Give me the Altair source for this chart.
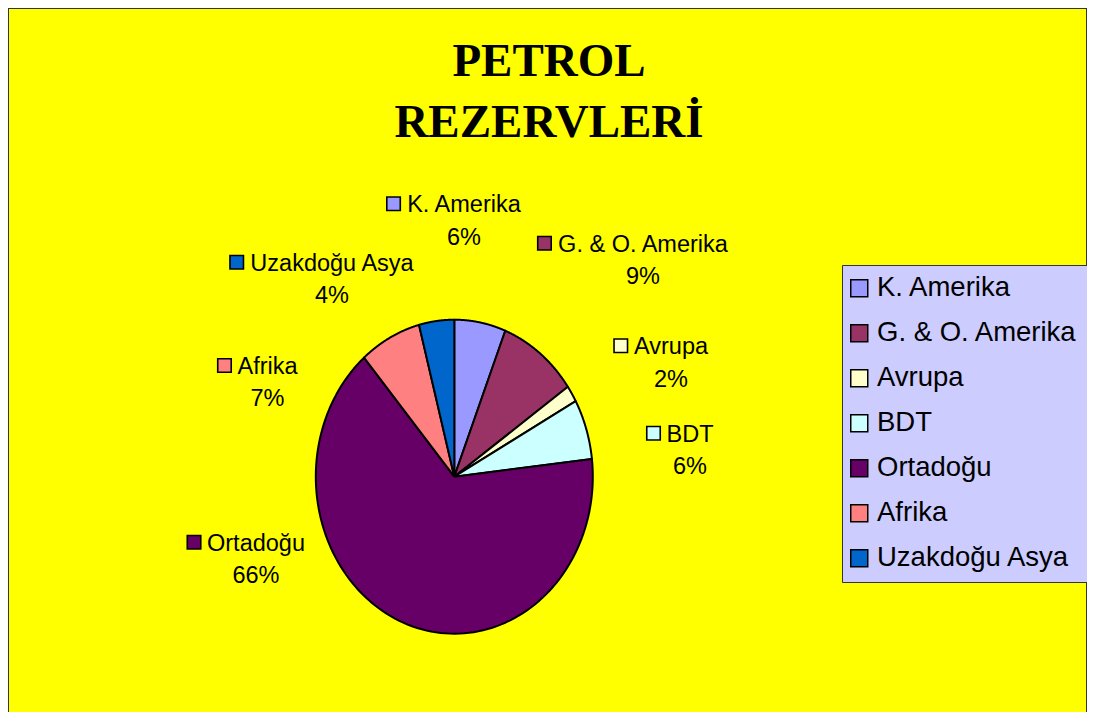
import altair as alt
import pandas as pd

# ---- data ----
categories = ["K. Amerika", "G. & O. Amerika", "Avrupa", "BDT", "Ortadoğu", "Afrika", "Uzakdoğu Asya"]
shares = [6.0, 9.3, 1.7, 6.2, 65.5, 7.2, 4.1]
colors = ["#9999FF", "#993366", "#FFFFCC", "#CCFFFF", "#660066", "#FF8080", "#0066CC"]
title_lines = ["PETROL", "REZERVLERİ"]

# ---- label layout (chart pixel coords: text centre x, name baseline y) ----
label_cx = [456, 635, 663, 682, 248, 259.5, 324]
label_base = [204.3, 243.7, 346.3, 433.7, 542.7, 366, 262.7]

LABEL_FS = 23.5
W = {"K": 667, ".": 278, " ": 278, "A": 667, "m": 833, "e": 556, "r": 333, "i": 222, "k": 500,
     "a": 556, "G": 778, "&": 667, "O": 778, "v": 500, "u": 556, "p": 556, "B": 667, "D": 722,
     "T": 611, "t": 278, "d": 556, "o": 556, "ğ": 556, "f": 278, "U": 722, "z": 500, "s": 500, "y": 500}


def text_w(s, fs):
    return sum(W.get(c, 556) for c in s) / 1000 * fs


pie_df = pd.DataFrame({"cat": categories, "val": shares, "k": list(range(len(categories)))})

lab_rows = []
for c, v, cx, b in zip(categories, shares, label_cx, label_base):
    tw = text_w(c, LABEL_FS)
    lab_rows.append({
        "cat": c,
        "pct": f"{int(v + 0.5)}%",
        "nx": cx, "ny": b, "py": b + 32.3,
        "sx": cx - tw / 2 - 13, "sy": b - 8.5,
    })
lab_df = pd.DataFrame(lab_rows)

N = 120
PCX, PCY, RX, RY = 446.3, 468.7, 138.5, 157.0

fill_scale = alt.Scale(domain=categories, range=colors)

pie = alt.Chart(pie_df).transform_window(
    cum="sum(val)", sort=[alt.SortField("k")], frame=[None, 0]
).transform_joinaggregate(
    total="sum(val)"
).transform_calculate(
    a0="2*PI*(datum.cum - datum.val)/datum.total",
    a1="2*PI*datum.cum/datum.total",
    pts=f"sequence(0, {N + 3})",
).transform_flatten(
    ["pts"], as_=["i"]
).transform_calculate(
    t=f"clamp(datum.i - 1, 0, {N})/{N}",
).transform_calculate(
    ang="datum.a0 + (datum.a1 - datum.a0)*datum.t",
    edge=f"(datum.i == 0 || datum.i == {N + 2}) ? 0 : 1",
).transform_calculate(
    px="datum.edge*sin(datum.ang)",
    py="datum.edge*cos(datum.ang)",
).mark_line(
    stroke="black", strokeWidth=2, strokeJoin="round", interpolate="linear"
).encode(
    x=alt.X("px:Q", scale=alt.Scale(domain=[-1, 1], range=[PCX - RX, PCX + RX], nice=False, zero=False), axis=None),
    y=alt.Y("py:Q", scale=alt.Scale(domain=[-1, 1], range=[PCY + RY, PCY - RY], nice=False, zero=False), axis=None),
    fill=alt.Fill("cat:N", scale=fill_scale, legend=alt.Legend(
        title=None, orient="none", legendX=834, legendY=257,
        labelFont="Liberation Sans", labelFontSize=27.5, labelColor="black",
        symbolType="square", symbolSize=289, symbolStrokeColor="black", symbolStrokeWidth=1.5,
        symbolOpacity=1, rowPadding=16, padding=9.5, labelOffset=4, symbolOffset=-6,
        fillColor="#CCCCFF", strokeColor="#333333", labelLimit=400,
    )),
    detail="cat:N",
    order=alt.Order("i:Q"),
)

names = alt.Chart(lab_df).mark_text(
    font="Liberation Sans", fontSize=LABEL_FS, color="black", align="center", baseline="alphabetic"
).encode(
    x=alt.X("nx:Q", scale=None, axis=None),
    y=alt.Y("ny:Q", scale=None, axis=None),
    text="cat:N",
)

pcts = alt.Chart(lab_df).mark_text(
    font="Liberation Sans", fontSize=LABEL_FS, color="black", align="center", baseline="alphabetic"
).encode(
    x=alt.X("nx:Q", scale=None, axis=None),
    y=alt.Y("py:Q", scale=None, axis=None),
    text="pct:N",
)

squares = alt.Chart(lab_df).mark_square(
    size=182, stroke="black", strokeWidth=1.6, opacity=1, filled=True
).encode(
    x=alt.X("sx:Q", scale=None, axis=None),
    y=alt.Y("sy:Q", scale=None, axis=None),
    fill=alt.Fill("cat:N", scale=fill_scale, legend=None),
)

title = alt.Chart(pd.DataFrame({"t": [0]})).mark_text(
    font="Liberation Serif", fontSize=47, fontWeight="bold", color="black",
    align="center", baseline="alphabetic", lineHeight=61,
).encode(
    x=alt.value(541), y=alt.value(68), text=alt.value(title_lines),
)

# frame: left, top and right edges only (bottom edge lies below the visible area in the original)
frame_src = pd.DataFrame({"t": [0]})
border_left = alt.Chart(frame_src).mark_rule(color="#333333", strokeWidth=2).encode(
    x=alt.value(0), y=alt.value(0), y2=alt.value(704))
border_top = alt.Chart(frame_src).mark_rule(color="#333333", strokeWidth=2).encode(
    x=alt.value(0), x2=alt.value(1079), y=alt.value(0))
border_right = alt.Chart(frame_src).mark_rule(color="#333333", strokeWidth=2).encode(
    x=alt.value(1079), y=alt.value(0), y2=alt.value(704))

chart = alt.layer(pie, squares, names, pcts, title, border_left, border_top, border_right).resolve_scale(
    x="independent", y="independent"
).properties(
    width=1079, height=704, padding=0, autosize=alt.AutoSizeParams(type="none"),
    background="#FFFF00",
).configure_view(
    strokeWidth=0, fill="#FFFF00"
)

chart.save("out.html", embed_options={"renderer": "svg", "actions": False})
